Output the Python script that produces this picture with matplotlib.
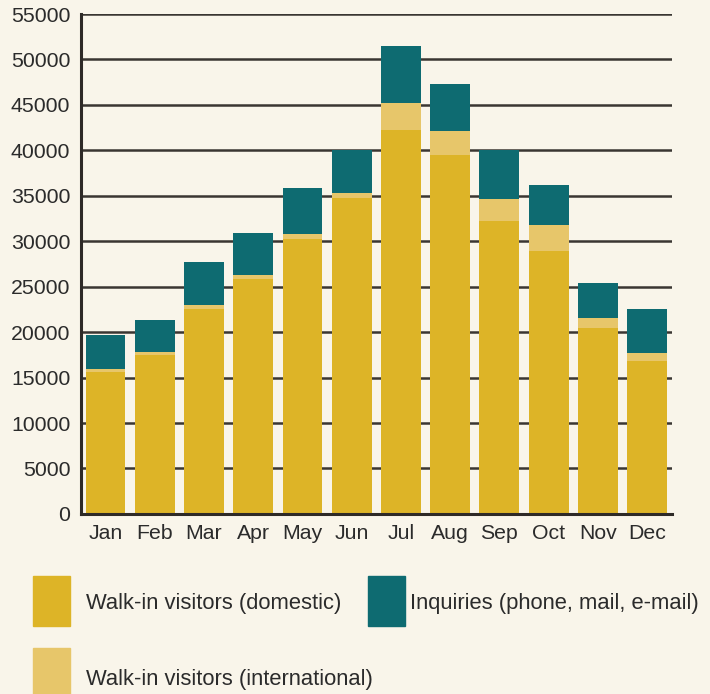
import matplotlib
matplotlib.use("Agg")
import matplotlib.pyplot as plt
import numpy as np

months = ["Jan", "Feb", "Mar", "Apr", "May", "Jun", "Jul", "Aug", "Sep", "Oct", "Nov", "Dec"]
domestic = [15600, 17450, 22500, 25800, 30300, 34800, 42200, 39500, 32250, 28950, 20400, 16800]
international = [330, 330, 440, 440, 550, 550, 2960, 2630, 2410, 2850, 1200, 880]
inquiries = [3730, 3500, 4820, 4710, 5050, 4710, 6360, 5160, 5370, 4390, 3840, 4820]
yticks = list(range(0, 55001, 5000))

bg = "#f9f5ea"
c_dom = "#ddb427"
c_int = "#e7c66a"
c_inq = "#0e6b71"
txt = "#2b2b2b"

plt.rcParams["font.family"] = ["Liberation Sans", "DejaVu Sans"]

fig = plt.figure(figsize=(7.10, 6.94), dpi=100, facecolor=bg)
ax = fig.add_axes([0.1135, 0.2595, 0.8325, 0.7203], facecolor=bg)

x = np.arange(len(months))
w = 0.81
dom = np.array(domestic)
intl = np.array(international)
inq = np.array(inquiries)
ax.bar(x, dom, w, color=c_dom, zorder=3)
ax.bar(x, intl, w, bottom=dom, color=c_int, zorder=3)
ax.bar(x, inq, w, bottom=dom + intl, color=c_inq, zorder=3)

ax.set_xlim(-0.507, 11.5)
ax.set_ylim(0, 55000)
ax.set_yticks(yticks)
ax.set_yticklabels([str(v) for v in yticks])
ax.set_xticks(x)
ax.set_xticklabels(months)
ax.tick_params(axis="both", length=0, labelsize=15.3, colors=txt)
ax.tick_params(axis="y", pad=7.5)
ax.tick_params(axis="x", pad=7.5)
ax.yaxis.grid(True, color="#3a3632", linewidth=1.8, zorder=0)
ax.set_axisbelow(True)
for s in ["top", "right"]:
    ax.spines[s].set_visible(False)
for s in ["left", "bottom"]:
    ax.spines[s].set_color("#2e2a27")
    ax.spines[s].set_linewidth(2.2)
    ax.spines[s].set_zorder(4)

def legend_item(x0, y0, color):
    fig.patches.append(plt.Rectangle((x0 / 710, 1 - (y0 + 50) / 694), 37 / 710, 50 / 694,
                                     transform=fig.transFigure, color=color, figure=fig))

legend_item(33, 576, c_dom)
legend_item(368, 576, c_inq)
legend_item(33, 648, c_int)
fig.text(86 / 710, 1 - 603 / 694, "Walk-in visitors (domestic)", fontsize=15.8, color=txt, va="center")
fig.text(410 / 710, 1 - 603 / 694, "Inquiries (phone, mail, e-mail)", fontsize=15.8, color=txt, va="center")
fig.text(86 / 710, 1 - 679 / 694, "Walk-in visitors (international)", fontsize=15.8, color=txt, va="center")

fig.savefig("out.png", dpi=100, facecolor=bg)
